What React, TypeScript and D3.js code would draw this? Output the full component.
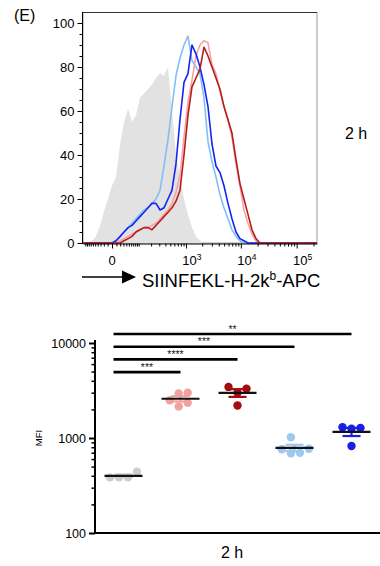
import React from "react";
import * as d3 from "d3";

// ---------- top panel: APC histograms (2 h) ----------
// bin centres on the APC axis
const bins = [
  -115, -84, -64, -47, -32, -20, -9, 0, 9, 20, 32, 47, 64, 84, 108, 137, 170, 209, 256, 311,
  375, 451, 541, 646, 771, 918, 1090, 1295, 1536, 1818, 2155, 2550, 3015, 3560, 4205, 4970,
  5870, 6925, 8175, 9645, 11380, 13430, 15835, 18680, 22050, 26000, 30650, 36150, 231000,
];
// % of max
const histGrey = [
  0, 0, 1, 3, 8, 14, 20, 26, 30, 45, 55, 61, 55, 58, 66, 68, 70, 72, 75, 77,
  76, 80, 60, 40, 30, 20, 13, 7, 3, 1, 0, 0, 0, 0, 0, 0,
  0, 0, 0, 0, 0, 0, 0, 0, 0, 0, 0, 0, 0,
];
const histLightBlue = [
  0, 0, 0, 0, 0, 0, 0, 0, 1, 3, 5, 7, 9, 11, 13, 15, 16, 18, 20, 24,
  35, 47, 62, 76, 84, 90, 94, 83, 80, 77, 66, 46, 37, 30, 22, 16,
  11, 6, 3, 1, 0, 0, 0, 0, 0, 0, 0, 0, 0,
];
const histBlue = [
  0, 0, 0, 0, 0, 0, 0, 0, 1, 3, 5, 7, 8, 10, 12, 14, 16, 18, 18, 15,
  16, 20, 24, 36, 56, 73, 77, 90, 86, 80, 72, 62, 45, 35, 32, 26,
  18, 11, 5, 2, 1, 0, 0, 0, 0, 0, 0, 0, 0,
];
const histLightRed = [
  0, 0, 0, 0, 0, 0, 0, 0, 0, 1, 2, 3, 4, 5, 6, 7, 7, 8, 9, 11,
  13, 15, 18, 23, 31, 48, 64, 74, 85, 90, 92, 91, 81, 77, 69, 62,
  56, 48, 36, 26, 15, 9, 4, 1, 0, 0, 0, 0, 0,
];
const histDarkRed = [
  0, 0, 0, 0, 0, 0, 0, 0, 0, 0, 1, 2, 3, 5, 6, 7, 7, 6, 8, 10,
  12, 14, 16, 19, 24, 40, 58, 71, 75, 79, 89, 85, 80, 75, 70, 62,
  56, 50, 38, 27, 20, 13, 6, 2, 0, 0, 0, 0, 0,
];
const histYTicks = [0, 20, 40, 60, 80, 100];
const histXTicks = [0, 1000, 10000, 100000];
const histXTickLabels = ["0", "10^3", "10^4", "10^5"];

// ---------- bottom panel: MFI dot plot ----------
const groups = ["grey", "light red", "dark red", "light blue", "blue"];
const mfiGrey = [385, 385, 385, 441];
const mfiLightRed = [3000, 2950, 2150, 2350, 2500];
const mfiDarkRed = [3300, 3450, 2200, 3000];
const mfiLightBlue = [1020, 770, 760, 700, 690];
const mfiBlue = [1275, 1250, 1300, 824];
const mfiTicks = [100, 1000, 10000];
const compTargets = ["blue", "light blue", "dark red", "light red"];
const compStars = ["**", "***", "****", "***"];

const FONT = "'Liberation Sans', Arial, Helvetica, sans-serif";

export default function App() {
  const ref = React.useRef<SVGSVGElement>(null);

  React.useEffect(() => {
    const svg = d3.select(ref.current);
    svg.selectAll("*").remove();
    drawHistogram(svg);
    drawDotPlot(svg);
  }, []);

  function drawHistogram(svg: any) {
    const x = d3
      .scaleSymlog()
      .constant(50)
      .domain([bins[0], bins[bins.length - 1]])
      .range([83, 317]);
    const y = d3.scaleLinear().domain([0, 100]).range([243, 23]);
    const g = svg.append("g");

    g.append("text").attr("x", 14).attr("y", 21).attr("font-size", 16).text("(E)");

    g.append("rect")
      .attr("x", 83)
      .attr("y", 12.5)
      .attr("width", 234)
      .attr("height", 230.5)
      .attr("fill", "none")
      .attr("stroke", "#9a9a9a");
    g.append("line").attr("x1", 83).attr("x2", 317).attr("y1", 12.5).attr("y2", 12.5).attr("stroke", "#333");

    const area = d3
      .area<number>()
      .x((d, i) => x(bins[i]))
      .y0(y(0))
      .y1((d) => y(d));
    g.append("path").datum(histGrey).attr("d", area).attr("fill", "#e2e2e2");

    const line = d3
      .line<number>()
      .x((d, i) => x(bins[i]))
      .y((d) => y(d));
    const series = [
      { values: histLightBlue, color: "#82bff5" },
      { values: histLightRed, color: "#f4a4a4" },
      { values: histBlue, color: "#1326f2" },
      { values: histDarkRed, color: "#b81c1c" },
    ];
    series.forEach((s) => {
      g.append("path")
        .datum(s.values)
        .attr("d", line)
        .attr("fill", "none")
        .attr("stroke", s.color)
        .attr("stroke-width", 1.6)
        .attr("stroke-linejoin", "round");
    });

    // y axis
    const yAxis = g
      .append("g")
      .attr("transform", "translate(82.5,0)")
      .call(d3.axisLeft(y).tickValues(histYTicks).tickSize(5).tickSizeOuter(0).tickPadding(3));
    yAxis.select(".domain").remove();
    yAxis.selectAll("text").attr("font-size", 13).attr("font-family", FONT);
    const yMinor = g
      .append("g")
      .attr("transform", "translate(82.5,0)")
      .call(d3.axisLeft(y).tickValues(d3.range(0, 101, 5)).tickSize(3).tickFormat(() => ""));
    yMinor.select(".domain").remove();
    g.append("line").attr("x1", 82.5).attr("x2", 82.5).attr("y1", 12).attr("y2", 244).attr("stroke", "#000");

    // x axis (biexponential-like)
    const minor: number[] = [];
    [10, 100, 1000, 10000, 100000].forEach((dec) => {
      for (let k = 1; k <= 9; k++) {
        const v = k * dec;
        if (v < 231000 && !histXTicks.includes(v)) minor.push(v);
      }
    });
    for (let k = 1; k <= 10; k++) minor.push(-k * 10);
    const xMinor = g
      .append("g")
      .attr("transform", "translate(0,243.5)")
      .call(d3.axisBottom(x).tickValues(minor).tickSize(3).tickFormat(() => ""));
    xMinor.select(".domain").remove();
    const xAxis = g
      .append("g")
      .attr("transform", "translate(0,243.5)")
      .call(d3.axisBottom(x).tickValues(histXTicks).tickSize(5).tickSizeOuter(0).tickFormat(() => ""));
    xAxis.select(".domain").attr("stroke", "#000");

    histXTicks.forEach((v, i) => {
      const [base, exp] = histXTickLabels[i].split("^");
      const t = g
        .append("text")
        .attr("x", x(v) + (exp ? 6 : 0))
        .attr("y", 265)
        .attr("text-anchor", "middle")
        .attr("font-size", 13)
        .text(base);
      if (exp) t.append("tspan").attr("dy", -5).attr("font-size", 8.5).text(exp);
    });

    // axis title with arrow
    g.append("line").attr("x1", 82).attr("x2", 124).attr("y1", 277).attr("y2", 277).attr("stroke", "#000").attr("stroke-width", 1.3);
    g.append("path").attr("d", "M122,270.5L136,277L122,283.5Z").attr("fill", "#000");
    const title = g.append("text").attr("x", 142).attr("y", 287).attr("font-size", 18.5).text("SIINFEKL-H-2k");
    title.append("tspan").attr("dy", -7).attr("font-size", 12).text("b");
    title.append("tspan").attr("dy", 7).attr("font-size", 18.5).text("-APC");

    g.append("text").attr("x", 345).attr("y", 139).attr("font-size", 16).text("2 h");
  }

  function drawDotPlot(svg: any) {
    const y = d3.scaleLog().domain([100, 10000]).range([533, 343]);
    const x = d3.scalePoint<string>().domain(groups).range([95, 380]).padding(0.5);
    const g = svg.append("g");

    const data = [
      { key: "grey", values: mfiGrey, color: "#cdcdcd" },
      { key: "light red", values: mfiLightRed, color: "#f3a0a0" },
      { key: "dark red", values: mfiDarkRed, color: "#a30d10" },
      { key: "light blue", values: mfiLightBlue, color: "#9cc8f2" },
      { key: "blue", values: mfiBlue, color: "#1a1ee6" },
    ];

    // y axis
    const yAxis = g
      .append("g")
      .attr("transform", "translate(95,0)")
      .call(d3.axisLeft(y).tickValues(mfiTicks).tickSize(6).tickSizeOuter(0).tickPadding(3).tickFormat(d3.format("d")));
    yAxis.select(".domain").remove();
    yAxis.selectAll("line").attr("stroke-width", 2);
    yAxis.selectAll("text").attr("font-size", 12.5).attr("font-family", FONT);
    const minor: number[] = [];
    [100, 1000].forEach((dec) => {
      for (let k = 2; k <= 9; k++) minor.push(k * dec);
    });
    const yMinor = g
      .append("g")
      .attr("transform", "translate(95,0)")
      .call(d3.axisLeft(y).tickValues(minor).tickSize(3.5).tickFormat(() => ""));
    yMinor.select(".domain").remove();
    yMinor.selectAll("line").attr("stroke-width", 1.5);
    g.append("line").attr("x1", 95).attr("x2", 95).attr("y1", 340).attr("y2", 534).attr("stroke", "#000").attr("stroke-width", 2);
    g.append("line").attr("x1", 94).attr("x2", 380).attr("y1", 533).attr("y2", 533).attr("stroke", "#000").attr("stroke-width", 2);

    g.append("text")
      .attr("transform", "translate(42,438) rotate(-90)")
      .attr("text-anchor", "middle")
      .attr("font-size", 9.5)
      .text("MFI");
    g.append("text").attr("x", 232).attr("y", 558).attr("text-anchor", "middle").attr("font-size", 16).text("2 h");

    const r = 4.2;
    const minDist = 9;
    data.forEach((grp) => {
      const cx = x(grp.key) as number;
      // simple beeswarm spread of the dots
      const sorted = [...grp.values].sort((a, b) => a - b);
      const placed: { dx: number; py: number; v: number }[] = [];
      sorted.forEach((v) => {
        const py = y(v);
        const cands = [0];
        for (let k = 1; k < 6; k++) cands.push(k * minDist, -k * minDist);
        const dx = cands.find((c) => placed.every((p) => Math.hypot(p.dx - c, p.py - py) >= minDist - 0.01)) ?? 0;
        placed.push({ dx, py, v });
      });
      const shift = d3.mean(placed, (p) => p.dx) ?? 0;

      g.append("g")
        .selectAll("circle")
        .data(placed)
        .enter()
        .append("circle")
        .attr("cx", (p: any) => cx + p.dx - shift)
        .attr("cy", (p: any) => p.py)
        .attr("r", r)
        .attr("fill", grp.color);

      const mean = d3.mean(grp.values) as number;
      const sem = (d3.deviation(grp.values) as number) / Math.sqrt(grp.values.length);
      const eb = g.append("g").attr("stroke", grp.color).attr("stroke-width", 2.2);
      eb.append("line").attr("x1", cx).attr("x2", cx).attr("y1", y(mean + sem)).attr("y2", y(mean - sem));
      [mean + sem, mean - sem].forEach((v) => {
        eb.append("line").attr("x1", cx - 9).attr("x2", cx + 9).attr("y1", y(v)).attr("y2", y(v));
      });
      g.append("line")
        .attr("x1", cx - 19)
        .attr("x2", cx + 19)
        .attr("y1", y(mean))
        .attr("y2", y(mean))
        .attr("stroke", "#111")
        .attr("stroke-width", 2.2);
    });

    // significance bars
    compTargets.forEach((t, i) => {
      const by = 334 + i * 12.7;
      const x1 = (x(groups[0]) as number) - 10;
      const x2 = x(t) as number;
      g.append("line").attr("x1", x1).attr("x2", x2).attr("y1", by).attr("y2", by).attr("stroke", "#000").attr("stroke-width", 2.6);
      g.append("text")
        .attr("x", (x1 + x2) / 2)
        .attr("y", by - 1.5)
        .attr("text-anchor", "middle")
        .attr("font-size", 10.5)
        .attr("fill", "#222")
        .text(compStars[i]);
    });
  }

  return (
    <svg
      ref={ref}
      width={380}
      height={566}
      style={{ position: "absolute", left: 0, top: 0, fontFamily: FONT, background: "#fff" }}
    />
  );
}
